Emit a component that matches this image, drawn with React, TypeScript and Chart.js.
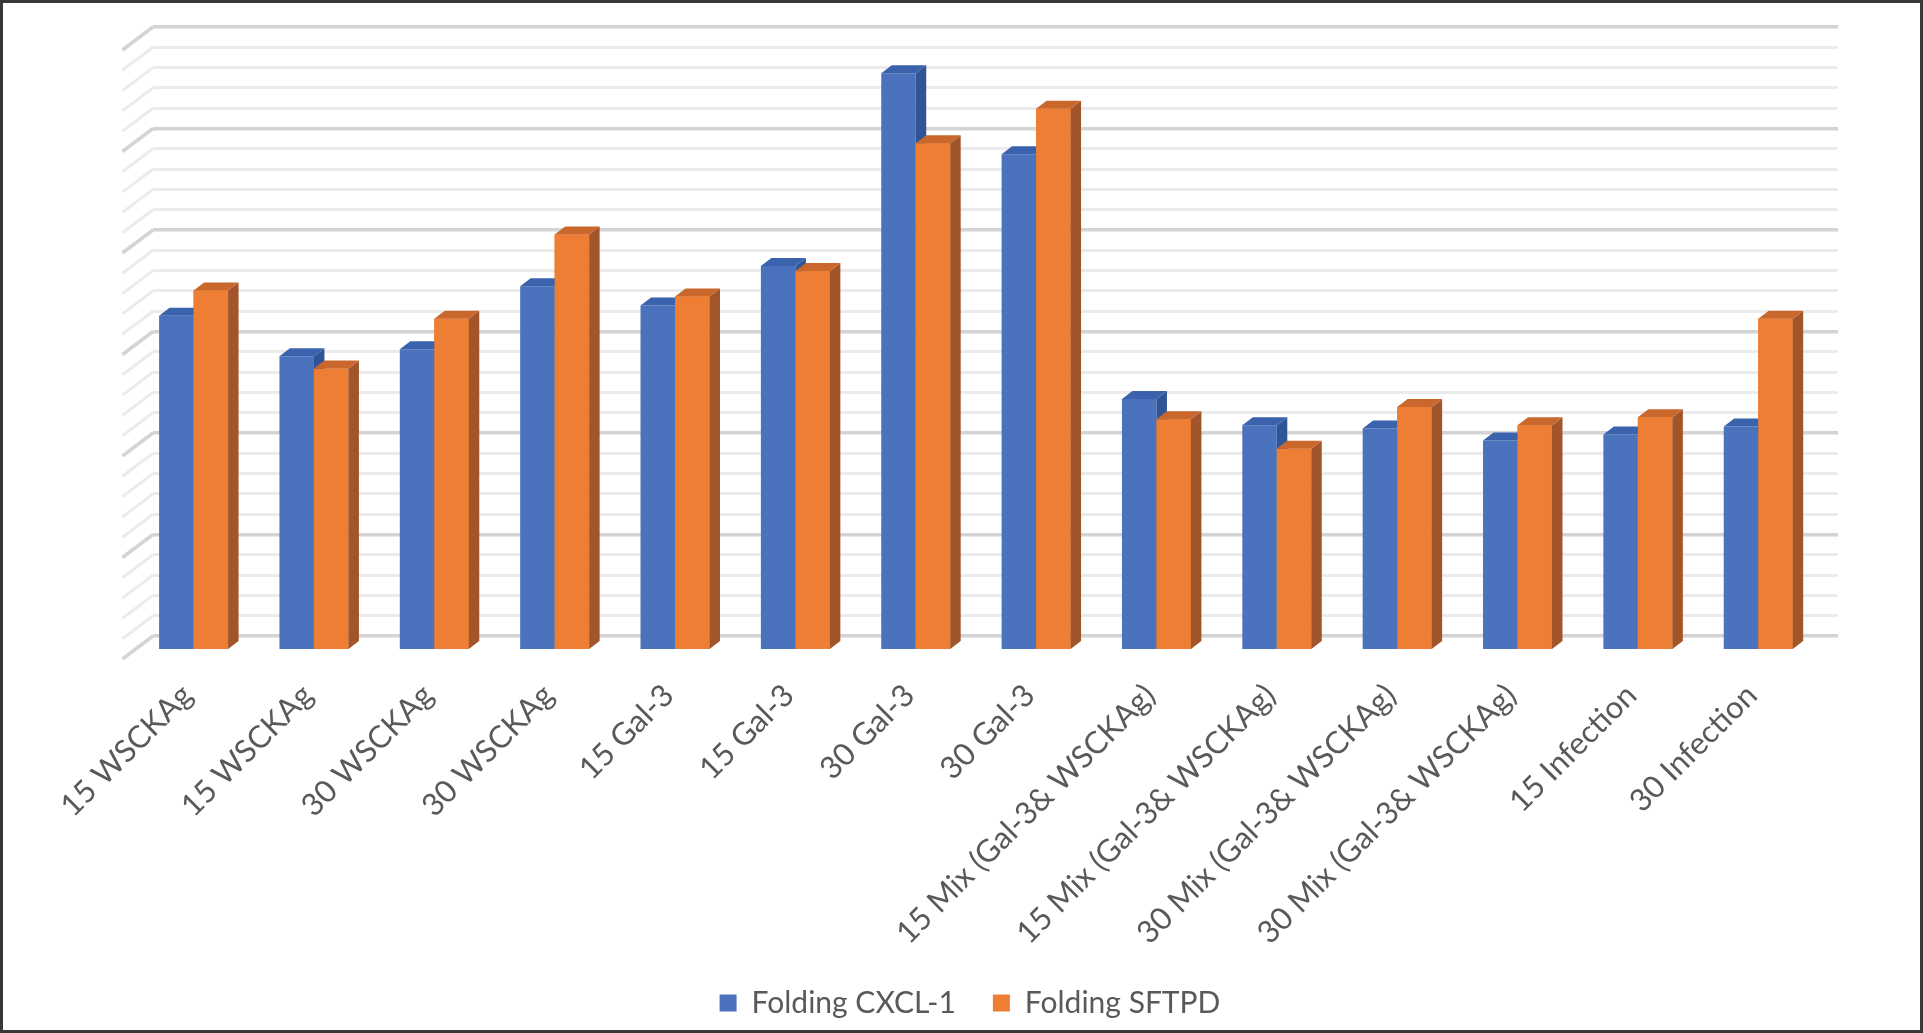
import { useEffect, useRef } from 'react'
import { Chart, registerables } from 'chart.js'

Chart.register(...registerables)

const categories = [
  '15 WSCKAg',
  '15 WSCKAg',
  '30 WSCKAg',
  '30 WSCKAg',
  '15 Gal-3',
  '15 Gal-3',
  '30 Gal-3',
  '30 Gal-3',
  '15 Mix (Gal-3& WSCKAg)',
  '15 Mix (Gal-3& WSCKAg)',
  '30 Mix (Gal-3& WSCKAg)',
  '30 Mix (Gal-3& WSCKAg)',
  '15 Infection',
  '30 Infection',
]

const seriesNames = ['Folding CXCL-1', 'Folding SFTPD']

// values (no axis labels in the original, scale 0-60)
const cxcl1Values = [33.0, 29.0, 29.7, 35.9, 34.0, 37.9, 56.9, 48.9, 24.8, 22.2, 21.9, 20.7, 21.3, 22.1]
const sftpdValues = [35.5, 27.8, 32.7, 41.0, 34.9, 37.4, 50.0, 53.4, 22.8, 19.9, 24.0, 22.2, 23.0, 32.7]

const yMin = 0
const yMax = 60
const yStep = 2
const yMajorStep = 10

// 3d look
const wallDepth = { x: 30.6, y: 23 } // side wall, back to front
const barShift = { x: 19.6, y: 14.7 } // bar front face vs back wall
const barDepth = { x: 10.5, y: 8 }
const shades = [
  { front: '#4A72BD', top: '#3B62AC', side: '#2F5597' },
  { front: '#EE7E33', top: '#C9672C', side: '#A2552A' },
]

const FONT = 'Lato, "Open Sans", sans-serif'
const TEXT = '#595959'

const gridColor = (v: number) => (v % yMajorStep === 0 ? '#d4d4d4' : '#ebebeb')
const gridWidth = (v: number) => (v % yMajorStep === 0 ? 3.5 : 3)

const columns3d = {
  id: 'columns3d',
  beforeDatasetsDraw(chart: Chart) {
    const { ctx, chartArea } = chart
    const yScale = chart.scales.y
    // left side wall lines
    ctx.save()
    yScale.ticks.forEach((t) => {
      const y = yScale.getPixelForValue(t.value)
      ctx.strokeStyle = gridColor(t.value)
      ctx.lineWidth = gridWidth(t.value)
      ctx.beginPath()
      ctx.moveTo(chartArea.left, y)
      ctx.lineTo(chartArea.left - wallDepth.x, y + wallDepth.y)
      ctx.stroke()
    })
    ctx.restore()
    ctx.save()
    ctx.translate(-barShift.x, barShift.y)
  },
  afterDatasetsDraw(chart: Chart) {
    const ctx = chart.ctx
    for (let i = 0; i < categories.length; i++) {
      chart.data.datasets.forEach((_ds, d) => {
        const el: any = chart.getDatasetMeta(d).data[i]
        const { x, y, base, width } = el.getProps(['x', 'y', 'base', 'width'], true)
        const l = x - width / 2
        const r = x + width / 2
        const c = shades[d]
        if (d > 0) {
          ctx.fillStyle = c.front
          ctx.fillRect(l, y, width, base - y)
        }
        ctx.fillStyle = c.side
        ctx.beginPath()
        ctx.moveTo(r, y)
        ctx.lineTo(r + barDepth.x, y - barDepth.y)
        ctx.lineTo(r + barDepth.x, base - barDepth.y)
        ctx.lineTo(r, base)
        ctx.closePath()
        ctx.fill()
        ctx.fillStyle = c.top
        ctx.beginPath()
        ctx.moveTo(l, y)
        ctx.lineTo(l + barDepth.x, y - barDepth.y)
        ctx.lineTo(r + barDepth.x, y - barDepth.y)
        ctx.lineTo(r, y)
        ctx.closePath()
        ctx.fill()
      })
    }
    ctx.restore()
  },
}

function ColumnChart() {
  const canvasRef = useRef<HTMLCanvasElement>(null)
  const chartRef = useRef<Chart | null>(null)

  useEffect(() => {
    if (!canvasRef.current) return
    if (chartRef.current) chartRef.current.destroy()

    chartRef.current = new Chart(canvasRef.current, {
      type: 'bar',
      data: {
        labels: categories,
        datasets: [
          {
            label: seriesNames[0],
            data: cxcl1Values,
            backgroundColor: shades[0].front,
            borderWidth: 0,
            clip: false,
          },
          {
            label: seriesNames[1],
            data: sftpdValues,
            backgroundColor: shades[1].front,
            borderWidth: 0,
            clip: false,
          },
        ],
      },
      options: {
        animation: false,
        responsive: true,
        maintainAspectRatio: false,
        datasets: {
          bar: { barPercentage: 1, categoryPercentage: 0.573 },
        },
        layout: { padding: { left: 79, right: 62, top: 24, bottom: 2 } },
        scales: {
          x: {
            grid: { display: false, drawTicks: false },
            border: { display: false },
            ticks: {
              autoSkip: false,
              minRotation: 45,
              maxRotation: 45,
              padding: 41,
              labelOffset: -26,
              color: TEXT,
              font: { family: FONT, size: 31 },
            },
            afterFit: (scale: any) => {
              scale.height = 315
            },
          },
          y: {
            min: yMin,
            max: yMax,
            border: { display: false },
            grid: {
              drawTicks: false,
              color: (c: any) => gridColor(c.tick.value),
              lineWidth: (c: any) => gridWidth(c.tick.value),
            },
            ticks: { display: false, stepSize: yStep },
            afterFit: (scale: any) => {
              scale.width = 71
            },
          },
          // empty spacer on the right, keeps the legend centred like the original
          spacer: {
            type: 'linear',
            position: 'right',
            display: true,
            grid: { display: false, drawTicks: false },
            border: { display: false },
            ticks: { display: false },
            afterFit: (scale: any) => {
              scale.width = 20
            },
          },
        },
        plugins: {
          legend: {
            position: 'bottom',
            labels: {
              boxWidth: 17,
              boxHeight: 17,
              padding: 37,
              color: TEXT,
              font: { family: FONT, size: 30 },
            },
          },
          tooltip: { enabled: false },
        },
      },
      plugins: [columns3d],
    })

    return () => {
      if (chartRef.current) {
        chartRef.current.destroy()
        chartRef.current = null
      }
    }
  }, [])

  return <canvas ref={canvasRef} />
}

export default function App() {
  return (
    <div
      style={{
        position: 'fixed',
        left: 0,
        top: 0,
        width: 1923,
        height: 1033,
        boxSizing: 'border-box',
        border: '3px solid #383838',
        background: '#fff',
      }}
    >
      <div style={{ position: 'relative', width: '100%', height: '100%' }}>
        <ColumnChart />
      </div>
    </div>
  )
}
